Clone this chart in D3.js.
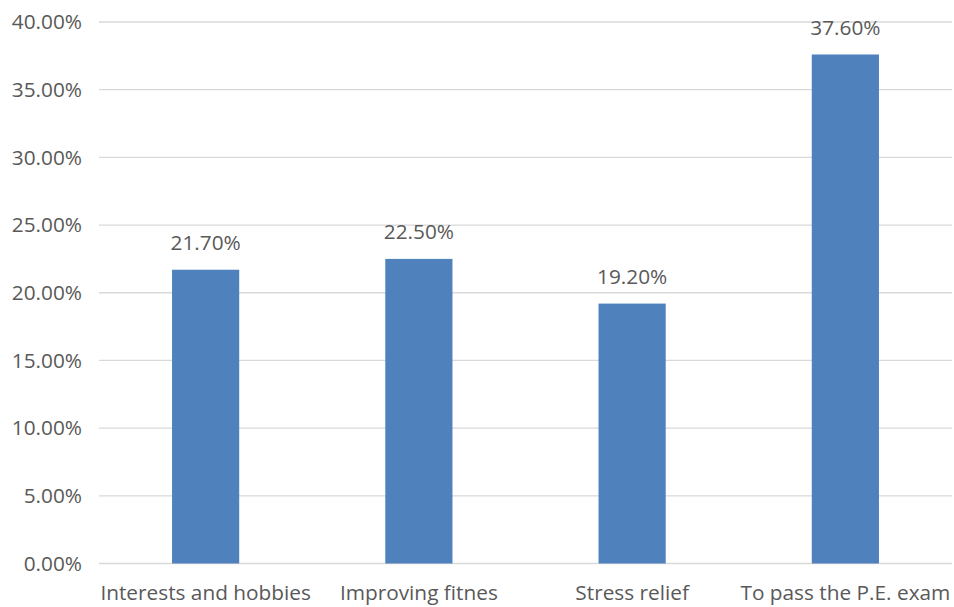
<!DOCTYPE html>
<html>
<head>
<meta charset="utf-8">
<script src="https://cdn.jsdelivr.net/npm/d3@7"></script>
<style>
  body { margin: 0; background: #fff; }
  text { font-family: "Open Sans", sans-serif; fill: #595959; }
</style>
</head>
<body>
<svg id="chart" width="954" height="607"></svg>
<script>
var categories = ['Interests and hobbies', 'Improving fitnes', 'Stress relief', 'To pass the P.E. exam'];
var values = [21.7, 22.5, 19.2, 37.6];
var yTicks = [0, 5, 10, 15, 20, 25, 30, 35, 40];

var margin = { top: 22, right: 2, bottom: 43.5, left: 99 };
var width = 954 - margin.left - margin.right,
    height = 607 - margin.top - margin.bottom;
var fontSize = 20.8;

var svg = d3.select('#chart');
var g = svg.append('g').attr('transform', 'translate(' + margin.left + ',' + margin.top + ')');

var x = d3.scaleBand().domain(categories).range([0, width]).paddingInner(0.685).paddingOuter(0.3425);
var y = d3.scaleLinear().domain([0, 40]).range([height, 0]);

// gridlines
g.selectAll('.grid').data(yTicks).enter().append('line')
    .attr('x1', 0).attr('x2', width)
    .attr('y1', function(d) { return y(d); }).attr('y2', function(d) { return y(d); })
    .attr('stroke', '#d9d9d9').attr('stroke-width', 1.3);

// y axis labels
var yAxis = d3.axisLeft(y).tickValues(yTicks).tickSize(0).tickPadding(17)
    .tickFormat(function(d) { return d.toFixed(2) + '%'; });
g.append('g').call(yAxis)
    .call(function(a) { a.select('.domain').remove(); })
    .selectAll('text').attr('font-size', fontSize).attr('font-family', '"Open Sans", sans-serif').attr('fill', '#595959');

// bars
g.selectAll('.bar').data(values).enter().append('rect')
    .attr('x', function(d, i) { return x(categories[i]); })
    .attr('width', x.bandwidth())
    .attr('y', function(d) { return y(d); })
    .attr('height', function(d) { return height - y(d); })
    .attr('fill', '#4f81bd');

// data labels
g.selectAll('.lbl').data(values).enter().append('text')
    .attr('x', function(d, i) { return x(categories[i]) + x.bandwidth() / 2; })
    .attr('y', function(d) { return y(d) - 20; })
    .attr('text-anchor', 'middle')
    .attr('font-size', fontSize)
    .text(function(d) { return d.toFixed(2) + '%'; });

// x axis labels
var xAxis = d3.axisBottom(x).tickSize(0).tickPadding(21.5);
g.append('g').attr('transform', 'translate(0,' + height + ')').call(xAxis)
    .call(function(a) { a.select('.domain').remove(); })
    .selectAll('text').attr('font-size', fontSize).attr('font-family', '"Open Sans", sans-serif').attr('fill', '#595959');
</script>
</body>
</html>
